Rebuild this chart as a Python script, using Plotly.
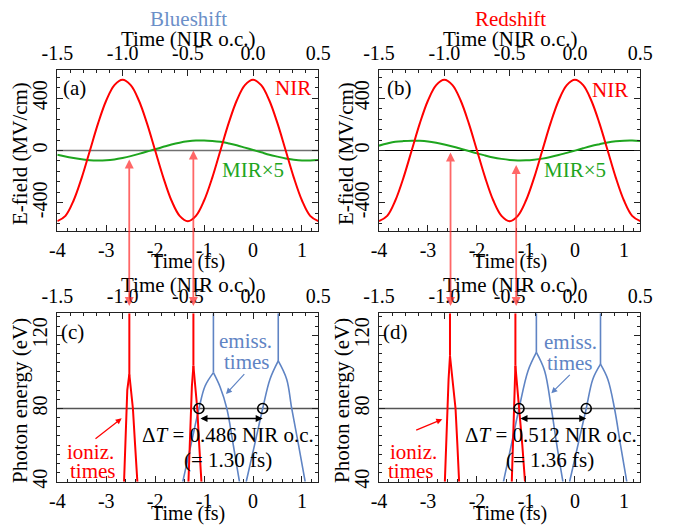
import plotly.graph_objects as go

PAGE_W, PAGE_H = 673, 526
OFF = 8  # default page (body) margin around the figure
W, H = PAGE_W - OFF, PAGE_H - OFF
FONT = "Times New Roman, Liberation Serif, DejaVu Serif, serif"
RED = "#ff0000"
GREEN = "#1ea51e"
BLUE = "#5f84c4"
TITLE_BLUE = "#6b8fc8"
TXT = 21

# ---------------- data ----------------
t_fs = [-4.0, -3.833, -3.667, -3.5, -3.333, -3.167, -3.0, -2.833, -2.667,
        -2.5, -2.333, -2.167, -2.0, -1.833, -1.667, -1.5, -1.333,
        -1.167, -1.0, -0.833, -0.667, -0.5, -0.333, -0.167, 0.0,
        0.167, 0.333, 0.5, 0.667, 0.833, 1.0, 1.167, 1.333]
nir_field = [-540, -499, -382, -207, 0, 207, 382, 499, 540,
             499, 382, 207, 0, -207, -382, -499, -540,
             -499, -382, -207, 0, 207, 382, 499, 540,
             499, 382, 207, 0, -207, -382, -499, -540]
mir_x5_blueshift = [-33, -46, -57, -67, -75, -77, -75, -68, -57,
                    -43, -26, -8, 9, 28, 46, 60, 70,
                    76, 77, 73, 66, 54, 40, 22, 4,
                    -14, -32, -47, -61, -70, -76, -77, -73]
mir_x5_redshift = [37, 53, 66, 72, 75, 74, 69, 59, 46,
                   31, 14, -4, -22, -38, -53, -64, -72,
                   -76, -75, -70, -62, -50, -35, -18, -1,
                   17, 34, 48, 61, 70, 75, 76, 72]

# photon energy vs time (fs): branches separated by None
ion1_c_t = [-2.636, -2.615, -2.595, -2.57, -2.528, None, -2.528, -2.49, -2.455, -2.41, -2.364, None, -2.528, -2.528]
ion1_c_E = [40, 60, 80, 90, 98.7, None, 98.7, 90, 80, 60, 40, None, 98.7, 132]
ion2_c_t = [-1.32, -1.295, -1.272, -1.25, -1.219, None, -1.219, -1.185, -1.14, -1.10, -1.055, None, -1.219, -1.219]
ion2_c_E = [40, 60, 80, 92, 103.3, None, 103.3, 92, 80, 60, 40, None, 103.3, 132]
emi1_c_t = [-1.436, -1.27, -1.105, -0.98, -0.81, None, -0.81, -0.675, -0.536, -0.41, -0.278, None, -0.81, -0.81]
emi1_c_E = [40, 60, 80, 92.3, 99.6, None, 99.6, 91.9, 80, 61, 40, None, 99.6, 132]
emi2_c_t = [-0.14, 0.03, 0.197, 0.346, 0.515, None, 0.515, 0.687, 0.79, 0.93, 1.065, None, 0.515, 0.515]
emi2_c_E = [40, 60, 80, 96, 106, None, 106, 96, 80, 60, 40, None, 106, 132]

ion1_d_t = [-2.656, -2.632, -2.609, -2.58, -2.551, None, -2.551, -2.50, -2.438, -2.40, -2.365, None, -2.551, -2.551]
ion1_d_E = [40, 60, 80, 96, 108.8, None, 108.8, 96, 80, 60, 40, None, 108.8, 132]
ion2_d_t = [-1.29, -1.27, -1.25, -1.235, -1.216, None, -1.216, -1.18, -1.128, -1.075, -1.02, None, -1.216, -1.216]
ion2_d_E = [40, 60, 80, 92, 103.3, None, 103.3, 92, 80, 60, 40, None, 103.3, 132]
emi1_d_t = [-1.46, -1.30, -1.142, -0.959, -0.788, None, -0.788, -0.619, -0.483, -0.37, -0.246, None, -0.788, -0.788]
emi1_d_E = [40, 60, 80, 100.5, 110.6, None, 110.6, 100.5, 80, 60, 40, None, 110.6, 132]
emi2_d_t = [-0.11, 0.06, 0.23, 0.364, 0.521, None, 0.521, 0.67, 0.807, 0.93, 1.057, None, 0.521, 0.521]
emi2_d_E = [40, 60, 80, 96, 104.2, None, 104.2, 96, 80, 60, 40, None, 104.2, 132]

marks_c_t = [-1.105, 0.197]
marks_d_t = [-1.142, 0.23]
marks_E = [80, 80]
arrow_E = 74.5
ref_energy = 80
ref_field = 0

# ionization times marked in the field panels (fs)
ioniz_a = [-2.53, -1.22]
ioniz_b = [-2.54, -1.20]

fs_range = [-4, 1.3333]
oc_range = [-1.5, 0.5]
fs_ticks = [-4, -3, -2, -1, 0, 1]
fs_labels = ["-4", "-3", "-2", "-1", "0", "1"]
oc_ticks = [-1.5, -1.0, -0.5, 0.0, 0.5]
oc_labels = ["-1.5", "-1.0", "-0.5", "0.0", "0.5"]
field_ticks = [-400, 0, 400]
field_labels = ["-400", "0", "400"]
energy_ticks = [40, 80, 120]
energy_labels = ["40", "80", "120"]

# ---------------- layout geometry (page pixels -> paper) ----------------
def px(xp):
    return (xp - OFF) / W

def py(yp):
    return 1 - (yp - OFF) / H

dom_left = [px(57.3), px(318.3)]
dom_right = [px(379), px(640.3)]
dom_top = [py(231), py(70)]
dom_bot = [py(481.7), py(313.3)]

fig = go.Figure()

def line_trace(x, y, color, xa, ya, width=2, shape="spline"):
    fig.add_trace(go.Scatter(x=x, y=y, mode="lines", xaxis=xa, yaxis=ya,
                             line=dict(color=color, width=width, shape=shape),
                             connectgaps=False, hoverinfo="skip"))

# panel a / b
line_trace(t_fs, mir_x5_blueshift, GREEN, "x", "y")
line_trace(t_fs, nir_field, RED, "x", "y")
line_trace(t_fs, mir_x5_redshift, GREEN, "x3", "y2")
line_trace(t_fs, nir_field, RED, "x3", "y2")

# panel c
line_trace(emi1_c_t, emi1_c_E, BLUE, "x5", "y3", 1.6)
line_trace(emi2_c_t, emi2_c_E, BLUE, "x5", "y3", 1.6)
line_trace(ion1_c_t, ion1_c_E, RED, "x5", "y3", 2, "linear")
line_trace(ion2_c_t, ion2_c_E, RED, "x5", "y3", 2, "linear")
# panel d
line_trace(emi1_d_t, emi1_d_E, BLUE, "x7", "y4", 1.6)
line_trace(emi2_d_t, emi2_d_E, BLUE, "x7", "y4", 1.6)
line_trace(ion1_d_t, ion1_d_E, RED, "x7", "y4", 2, "linear")
line_trace(ion2_d_t, ion2_d_E, RED, "x7", "y4", 2, "linear")

for mt, xa, ya in [(marks_c_t, "x5", "y3"), (marks_d_t, "x7", "y4")]:
    fig.add_trace(go.Scatter(x=mt, y=marks_E, mode="markers", xaxis=xa, yaxis=ya,
                             marker=dict(symbol="circle-open", size=10, color="black",
                                         line=dict(width=1.6, color="black")),
                             hoverinfo="skip"))

# empty traces so that the top (NIR o.c.) axes are drawn
for xa, ya in [("x2", "y"), ("x4", "y2"), ("x6", "y3"), ("x8", "y4")]:
    fig.add_trace(go.Scatter(x=oc_range, y=[None, None], mode="lines", xaxis=xa, yaxis=ya,
                             hoverinfo="skip", showlegend=False))

tickfont = dict(family=FONT, size=20, color="black")

def base_axis(**kw):
    d = dict(showline=True, linecolor="#222", linewidth=1, ticks="inside", ticklen=6,
             tickwidth=1, tickcolor="#222", showgrid=False, zeroline=False,
             tickfont=tickfont, tickmode="array", ticklabelstandoff=1, automargin=False)
    d.update(kw)
    return d

minor_fs = dict(ticks="inside", ticklen=3, dtick=0.2, tick0=0, tickcolor="#222")
minor_oc = dict(ticks="inside", ticklen=3, dtick=0.1, tick0=0, tickcolor="#222")
minor_field = dict(ticks="inside", ticklen=3, dtick=80, tick0=0, tickcolor="#222")
minor_energy = dict(ticks="inside", ticklen=3, dtick=5, tick0=0, tickcolor="#222")

panels = [
    ("xaxis", "xaxis2", "yaxis", "x", "y", dom_left, dom_top, [-615, 615], field_ticks, field_labels, minor_field),
    ("xaxis3", "xaxis4", "yaxis2", "x3", "y2", dom_right, dom_top, [-615, 615], field_ticks, field_labels, minor_field),
    ("xaxis5", "xaxis6", "yaxis3", "x5", "y3", dom_left, dom_bot, [40, 132], energy_ticks, energy_labels, minor_energy),
    ("xaxis7", "xaxis8", "yaxis4", "x7", "y4", dom_right, dom_bot, [40, 132], energy_ticks, energy_labels, minor_energy),
]
layout_axes = {}
for xb, xt, yy, xid, yid, xdom, ydom, yr, yt, yl, ym in panels:
    layout_axes[xb] = base_axis(domain=xdom, anchor=yid, range=fs_range,
                                tickvals=fs_ticks, ticktext=fs_labels, minor=minor_fs)
    layout_axes[xt] = base_axis(overlaying=xid, side="top", anchor=yid, range=oc_range,
                                tickvals=oc_ticks, ticktext=oc_labels, minor=minor_oc)
    layout_axes[yy] = base_axis(domain=ydom, anchor=xid, range=yr, tickvals=yt, ticktext=yl,
                                tickangle=-90, mirror="ticks", minor=ym)

fig.update_layout(**layout_axes)

shapes = [
    dict(type="line", xref="x domain", x0=0, x1=1, yref="y", y0=ref_field, y1=ref_field,
         line=dict(color="#707070", width=1.6), layer="below"),
    dict(type="line", xref="x3 domain", x0=0, x1=1, yref="y2", y0=ref_field, y1=ref_field,
         line=dict(color="black", width=1.2), layer="below"),
    dict(type="line", xref="x5 domain", x0=0, x1=1, yref="y3", y0=ref_energy, y1=ref_energy,
         line=dict(color="#555", width=1.4), layer="below"),
    dict(type="line", xref="x7 domain", x0=0, x1=1, yref="y4", y0=ref_energy, y1=ref_energy,
         line=dict(color="#555", width=1.4), layer="below"),
]

ann = []

def text(s, xp, yp, color="black", size=TXT, angle=0):
    ann.append(dict(text=s, x=px(xp), y=py(yp), xref="paper", yref="paper",
                    showarrow=False, xanchor="center", yanchor="middle", textangle=angle,
                    font=dict(family=FONT, size=size, color=color)))

text("Blueshift", 188, 19, TITLE_BLUE)
text("Redshift", 510, 19, RED)
for cx in (188, 510):
    text("Time (NIR o.c.)", cx, 39)
    text("Time (NIR o.c.)", cx, 285)
    text("Time (fs)", cx, 261, size=20)
    text("Time (fs)", cx, 513, size=20)
text("E-field (MV/cm)", 20, 154, angle=-90)
text("E-field (MV/cm)", 346, 154, angle=-90)
text("Photon energy (eV)", 20, 401, angle=-90)
text("Photon energy (eV)", 342, 401, angle=-90)
text("(a)", 74, 88)
text("(b)", 400, 88)
text("(c)", 72, 332)
text("(d)", 395, 332)
text("NIR", 293, 88, RED)
text("NIR", 610, 90, RED)
text("MIR×5", 253, 170, GREEN)
text("MIR×5", 575, 170, GREEN)
text("ioniz.", 90, 452, RED)
text("times", 92.5, 471, RED)
text("ioniz.", 413, 452, RED)
text("times", 411.3, 471, RED)
text("emiss.", 245, 341, BLUE)
text("times", 246.7, 362, BLUE)
text("emiss.", 570, 342, BLUE)
text("times", 570, 363, BLUE)
text("Δ<i>T</i> = 0.486 NIR o.c.", 228, 435)
text("(= 1.30 fs)", 228, 460)
text("Δ<i>T</i> = 0.512 NIR o.c.", 551, 435)
text("(= 1.36 fs)", 550, 460)

def arrow(hx, hy, tx, ty, color, width=1.2, head=2):
    ann.append(dict(text="", x=px(hx), y=py(hy), xref="paper", yref="paper",
                    ax=tx - hx, ay=ty - hy, axref="pixel", ayref="pixel",
                    showarrow=True, arrowhead=head, arrowsize=1, arrowwidth=width,
                    arrowcolor=color, standoff=0))

arrow(121.7, 418.3, 94, 440, RED)
arrow(442.3, 419.3, 414.7, 430.7, RED)
arrow(226, 394, 245.7, 372.7, BLUE)
arrow(551.3, 393.3, 571.3, 373.3, BLUE)

# double arrows between emission times (data coords)
for mt, xa, ya in [(marks_c_t, "x5", "y3"), (marks_d_t, "x7", "y4")]:
    ann.append(dict(text="", x=mt[1], y=arrow_E, xref=xa, yref=ya,
                    ax=mt[0], ay=arrow_E, axref=xa, ayref=ya, showarrow=True,
                    arrowhead=2, startarrowhead=2, arrowside="end+start", arrowwidth=1.4,
                    arrowsize=1, startarrowsize=1, arrowcolor="black", standoff=0, startstandoff=0))

# cross-panel red arrows from field panel down to emission panel
for tt, xa, tops in [(ioniz_a, "x", [158, 149]), (ioniz_b, "x3", [151, 163.5])]:
    for t0, top in zip(tt, tops):
        ann.append(dict(text="", x=t0, y=py(306), xref=xa, yref="paper",
                        ax=0, ay=top - 306, axref="pixel", ayref="pixel", showarrow=True,
                        arrowhead=2, startarrowhead=2, arrowside="end+start",
                        arrowwidth=1.8, arrowsize=1, startarrowsize=1,
                        arrowcolor="rgba(255,40,40,0.7)", standoff=0, startstandoff=0))

fig.update_layout(width=W, height=H, margin=dict(l=0, r=0, t=0, b=0, autoexpand=False),
                  paper_bgcolor="white", plot_bgcolor="white", showlegend=False,
                  shapes=shapes, annotations=ann, font=dict(family=FONT, size=20))

fig.write_html("out.html")
